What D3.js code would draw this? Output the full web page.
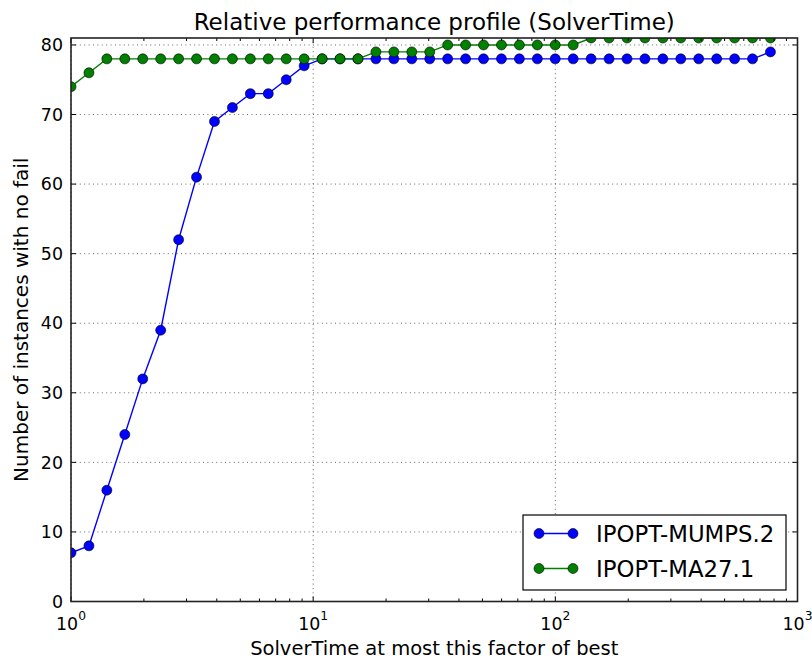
<!DOCTYPE html>
<html><head><meta charset="utf-8">
<script src="https://cdn.jsdelivr.net/npm/d3@7"></script>
<style>body{margin:0;background:#fff}svg{display:block}text{font-family:"DejaVu Sans",sans-serif;fill:#000}</style>
</head><body>
<svg id="c" width="812" height="659"></svg>
<script>
// Performance-profile factors (x)
const factors = [1, 1.186, 1.406, 1.668, 1.978, 2.346, 2.782, 3.299, 3.913, 4.640,
  5.503, 6.527, 7.740, 9.180, 10.89, 12.91, 15.31, 18.16, 21.54, 25.54,
  30.29, 35.92, 42.60, 50.52, 59.91, 71.05, 84.27, 99.9, 118.5, 140.5,
  166.7, 197.7, 234.4, 278.0, 329.6, 390.9, 463.7, 549.9, 652.1, 773.3];
const mumps = [7, 8, 16, 24, 32, 39, 52, 61, 69, 71,
  73, 73, 75, 77, 78, 78, 78, 78, 78, 78,
  78, 78, 78, 78, 78, 78, 78, 78, 78, 78,
  78, 78, 78, 78, 78, 78, 78, 78, 78, 79];
const ma27 = [74, 76, 78, 78, 78, 78, 78, 78, 78, 78,
  78, 78, 78, 78, 78, 78, 78, 79, 79, 79,
  79, 80, 80, 80, 80, 80, 80, 80, 80, 81,
  81, 81, 81, 81, 81, 81, 81, 81, 81, 81];
const seriesNames = ["IPOPT-MUMPS.2", "IPOPT-MA27.1"];
const seriesColors = ["#0000ff", "#008000"];
const yTicks = [0, 10, 20, 30, 40, 50, 60, 70, 80];
const xTickExps = [0, 1, 2, 3];
const titleText = "Relative performance profile (SolverTime)";
const xLabel = "SolverTime at most this factor of best";
const yLabel = "Number of instances with no fail";

const L = 71, R = 797.5, T = 38, B = 601.5;
const svg = d3.select("#c");
const x = d3.scaleLog().domain([1, 1000]).range([L, R]);
const y = d3.scaleLinear().domain([0, 81]).range([B, T]);

svg.append("defs").append("clipPath").attr("id", "clip")
  .append("rect").attr("x", L).attr("y", T).attr("width", R - L).attr("height", B - T);

// grid
const grid = svg.append("g").attr("stroke", "#000").attr("stroke-width", 0.7)
  .attr("stroke-dasharray", "1,3.4").attr("opacity", 0.85);
yTicks.forEach(v => grid.append("line").attr("x1", L).attr("x2", R).attr("y1", y(v)).attr("y2", y(v)));
xTickExps.forEach(e => grid.append("line").attr("x1", x(Math.pow(10, e))).attr("x2", x(Math.pow(10, e))).attr("y1", T).attr("y2", B));

// series
const series = [mumps, ma27];
const plot = svg.append("g").attr("clip-path", "url(#clip)");
series.forEach((vals, si) => {
  const pts = vals.map((v, i) => [factors[i], v]);
  plot.append("path").datum(pts)
    .attr("fill", "none").attr("stroke", seriesColors[si]).attr("stroke-width", 1.4)
    .attr("d", d3.line().x(d => x(d[0])).y(d => y(d[1])));
  plot.selectAll(null).data(pts).enter().append("circle")
    .attr("cx", d => x(d[0])).attr("cy", d => y(d[1])).attr("r", 5)
    .attr("fill", seriesColors[si]).attr("stroke", "#000").attr("stroke-width", 0.6);
});

// ticks (inward, all four sides)
const tk = svg.append("g").attr("stroke", "#000").attr("stroke-width", 1);
yTicks.forEach(v => {
  tk.append("line").attr("x1", L).attr("x2", L + 5).attr("y1", y(v)).attr("y2", y(v));
  tk.append("line").attr("x1", R).attr("x2", R - 5).attr("y1", y(v)).attr("y2", y(v));
});
x.ticks().forEach(t => {
  const major = Math.abs(Math.log10(t) - Math.round(Math.log10(t))) < 1e-9;
  const len = major ? 5 : 3;
  tk.append("line").attr("x1", x(t)).attr("x2", x(t)).attr("y1", B).attr("y2", B - len);
  tk.append("line").attr("x1", x(t)).attr("x2", x(t)).attr("y1", T).attr("y2", T + len);
});

// frame
svg.append("rect").attr("x", L).attr("y", T).attr("width", R - L).attr("height", B - T)
  .attr("fill", "none").attr("stroke", "#222").attr("stroke-width", 1.6);

// tick labels
yTicks.forEach(v => {
  svg.append("text").attr("x", L - 8).attr("y", y(v)).attr("dy", "0.36em")
    .attr("text-anchor", "end").attr("font-size", 17.4).text(v);
});
xTickExps.forEach(e => {
  const t = svg.append("text").attr("x", x(Math.pow(10, e))).attr("y", 629.5)
    .attr("text-anchor", "middle").attr("font-size", 17.4);
  t.append("tspan").text("10");
  t.append("tspan").attr("font-size", 12.3).attr("dy", -9.5).text(e);
});

// title and axis labels
svg.append("text").attr("x", (L + R) / 2).attr("y", 30).attr("text-anchor", "middle")
  .attr("font-size", 23).text(titleText);
svg.append("text").attr("x", (L + R) / 2).attr("y", 655).attr("text-anchor", "middle")
  .attr("font-size", 19.5).text(xLabel);
svg.append("text").attr("transform", `translate(28,${(T + B) / 2}) rotate(-90)`)
  .attr("text-anchor", "middle").attr("font-size", 20).text(yLabel);

// legend
const lg = svg.append("g");
lg.append("rect").attr("x", 523).attr("y", 515).attr("width", 263).attr("height", 75)
  .attr("fill", "#fff").attr("stroke", "#000").attr("stroke-width", 1.2);
seriesNames.forEach((name, i) => {
  const cy = 533.5 + i * 35;
  lg.append("line").attr("x1", 539).attr("x2", 573).attr("y1", cy).attr("y2", cy)
    .attr("stroke", seriesColors[i]).attr("stroke-width", 1.4);
  [539, 573].forEach(cx => lg.append("circle").attr("cx", cx).attr("cy", cy).attr("r", 5)
    .attr("fill", seriesColors[i]).attr("stroke", "#000").attr("stroke-width", 0.6));
  lg.append("text").attr("x", 596).attr("y", cy).attr("dy", "0.36em")
    .attr("font-size", 22.8).text(name);
});
</script>
</body></html>
